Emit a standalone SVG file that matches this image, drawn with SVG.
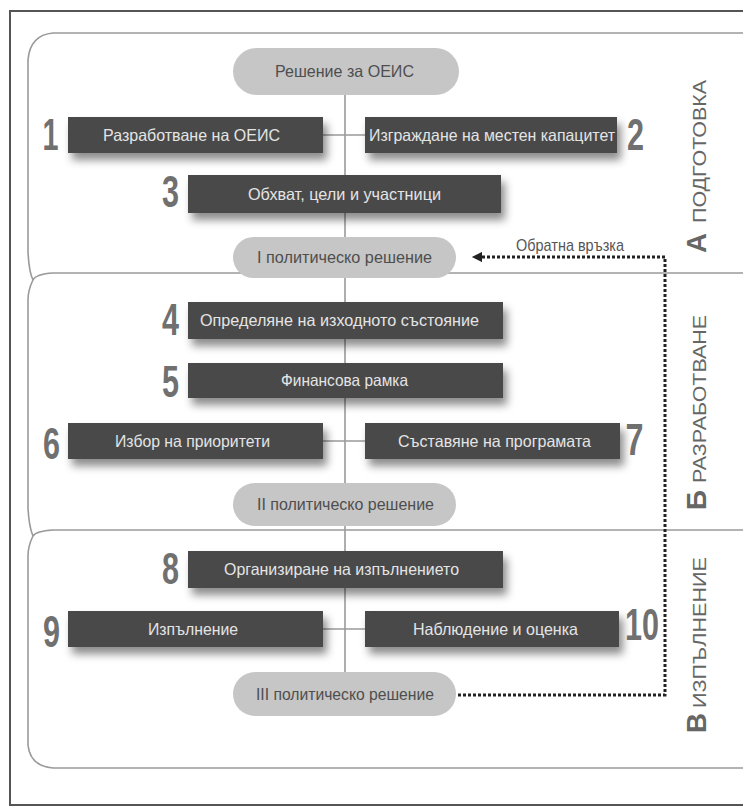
<svg xmlns="http://www.w3.org/2000/svg" width="743" height="807" viewBox="0 0 743 807">
<defs>
<filter id="sh" x="-10%" y="-40%" width="130%" height="200%">
<feDropShadow dx="4" dy="7" stdDeviation="4" flood-color="#000" flood-opacity="0.45"/>
</filter>
<marker id="arr" viewBox="0 0 10 10" refX="1" refY="5" markerWidth="4" markerHeight="3.4" orient="auto-start-reverse" markerUnits="strokeWidth">
<path d="M0,0 L10,5 L0,10 z" fill="#222"/>
</marker>
<style>
.sec{fill:none;stroke:#9a9a9a;stroke-width:1.6}
.frame{fill:none;stroke:#555;stroke-width:2}
.box{fill:#4a4a4a;filter:url(#sh)}
.bt{font-family:"Liberation Sans Narrow","Liberation Sans",Arial,sans-serif;font-size:16.5px;fill:#e4e4e4;text-anchor:middle}
.oval{fill:#c6c6c6}
.ot{font-family:"Liberation Sans Narrow","Liberation Sans",Arial,sans-serif;font-size:16.5px;fill:#4e4e4e;text-anchor:middle}
.num{font-family:"Liberation Sans Narrow","Liberation Sans",Arial,sans-serif;font-size:44px;font-weight:bold;fill:#707070;text-anchor:middle}
.ln{stroke:#9a9a9a;stroke-width:1.6;fill:none}
.fb{stroke:#222;stroke-width:3;fill:none;stroke-dasharray:3 2}
.big{font-family:"Liberation Sans",Arial,sans-serif;font-size:28px;font-weight:bold;fill:#666}
.lab{font-family:"Liberation Sans",Arial,sans-serif;font-size:18px;fill:#666}
.fbt{font-family:"Liberation Sans Narrow","Liberation Sans",Arial,sans-serif;font-size:17px;fill:#555}
</style>
</defs>
<rect width="743" height="807" fill="#fff"/>
<path class="frame" d="M745,11 H10 V805 H745"/>
<g id="sections">
<path class="sec" d="M745,33 H53 Q30,35 28,60 V252 Q29,272 33,280"/>
<path class="sec" d="M745,273 H53 Q36,274 33,280 Q28,290 28,300 V508 Q29,527 33,536"/>
<path class="sec" d="M745,530 H53 Q36,531 33,536 Q28,546 28,556 V745 Q30,766 53,768 H745"/>
</g>
<g id="connectors">
<line class="ln" x1="345" y1="92" x2="345" y2="675"/>
<line class="ln" x1="320" y1="135" x2="368" y2="135"/>
<line class="ln" x1="320" y1="441" x2="368" y2="441"/>
<line class="ln" x1="320" y1="629" x2="368" y2="629"/>
<path class="fb" d="M458,695 H665 V257 H481" marker-end="url(#arr)"/>
<text class="fbt" x="570" y="251" text-anchor="middle" textLength="108" lengthAdjust="spacingAndGlyphs">Обратна връзка</text>
</g>
<g id="start">
<rect class="oval" x="233" y="48" width="226" height="47" rx="23.5"/>
<text class="ot" x="344.5" y="77" textLength="139" lengthAdjust="spacingAndGlyphs">Решение за ОЕИС</text>
</g>
<g id="n1">
<rect class="box" x="68" y="117" width="255" height="36"/>
<text class="bt" x="191.5" y="141" textLength="177" lengthAdjust="spacingAndGlyphs">Разработване на ОЕИС</text>
<text class="num" x="50.5" y="150" textLength="16" lengthAdjust="spacingAndGlyphs">1</text>
</g>
<g id="n2">
<rect class="box" x="365" y="117" width="252" height="36"/>
<text class="bt" x="492" y="141" textLength="246" lengthAdjust="spacingAndGlyphs">Изграждане на местен капацитет</text>
<text class="num" x="635.5" y="150" textLength="17" lengthAdjust="spacingAndGlyphs">2</text>
</g>
<g id="n3">
<rect class="box" x="188" y="175" width="313" height="38"/>
<text class="bt" x="344.5" y="200" textLength="193" lengthAdjust="spacingAndGlyphs">Обхват, цели и участници</text>
<text class="num" x="170.5" y="207" textLength="17" lengthAdjust="spacingAndGlyphs">3</text>
</g>
<g id="d1">
<rect class="oval" x="233" y="237" width="223" height="41" rx="20.5"/>
<text class="ot" x="344.5" y="263" textLength="175" lengthAdjust="spacingAndGlyphs">I политическо решение</text>
</g>
<g id="n4">
<rect class="box" x="188" y="302" width="315" height="37"/>
<text class="bt" x="339.5" y="326" textLength="279" lengthAdjust="spacingAndGlyphs">Определяне на изходното състояние</text>
<text class="num" x="170.5" y="335" textLength="17" lengthAdjust="spacingAndGlyphs">4</text>
</g>
<g id="n5">
<rect class="box" x="188" y="363" width="315" height="35"/>
<text class="bt" x="344.5" y="386" textLength="127" lengthAdjust="spacingAndGlyphs">Финансова рамка</text>
<text class="num" x="170.5" y="397" textLength="17" lengthAdjust="spacingAndGlyphs">5</text>
</g>
<g id="n6">
<rect class="box" x="68" y="423" width="255" height="36"/>
<text class="bt" x="192.5" y="447" textLength="155" lengthAdjust="spacingAndGlyphs">Избор на приоритети</text>
<text class="num" x="51.5" y="459" textLength="17" lengthAdjust="spacingAndGlyphs">6</text>
</g>
<g id="n7">
<rect class="box" x="365" y="423" width="255" height="36"/>
<text class="bt" x="494.5" y="447" textLength="193" lengthAdjust="spacingAndGlyphs">Съставяне на програмата</text>
<text class="num" x="634.5" y="455" textLength="18" lengthAdjust="spacingAndGlyphs">7</text>
</g>
<g id="d2">
<rect class="oval" x="233" y="483" width="223" height="43" rx="21.5"/>
<text class="ot" x="345.5" y="510" textLength="177" lengthAdjust="spacingAndGlyphs">II политическо решение</text>
</g>
<g id="n8">
<rect class="box" x="188" y="551" width="315" height="37"/>
<text class="bt" x="341.5" y="575" textLength="235" lengthAdjust="spacingAndGlyphs">Организиране на изпълнението</text>
<text class="num" x="170.5" y="584" textLength="17" lengthAdjust="spacingAndGlyphs">8</text>
</g>
<g id="n9">
<rect class="box" x="68" y="611" width="255" height="36"/>
<text class="bt" x="193" y="635" textLength="90" lengthAdjust="spacingAndGlyphs">Изпълнение</text>
<text class="num" x="51.5" y="647" textLength="17" lengthAdjust="spacingAndGlyphs">9</text>
</g>
<g id="n10">
<rect class="box" x="365" y="611" width="254" height="36"/>
<text class="bt" x="495.5" y="635" textLength="165" lengthAdjust="spacingAndGlyphs">Наблюдение и оценка</text>
<text class="num" x="642" y="640" textLength="34" lengthAdjust="spacingAndGlyphs">10</text>
</g>
<g id="d3">
<rect class="oval" x="233" y="672" width="223" height="44" rx="22"/>
<text class="ot" x="345" y="700" textLength="178" lengthAdjust="spacingAndGlyphs">III политическо решение</text>
</g>
<g id="labels">
<g transform="translate(706,253) rotate(-90)">
<text class="big" x="0" y="0" textLength="20" lengthAdjust="spacingAndGlyphs">А</text>
<text class="lab" x="30" y="0" textLength="143" lengthAdjust="spacingAndGlyphs">ПОДГОТОВКА</text>
</g>
<g transform="translate(706,510) rotate(-90)">
<text class="big" x="0" y="0" textLength="20" lengthAdjust="spacingAndGlyphs">Б</text>
<text class="lab" x="27" y="0" textLength="168" lengthAdjust="spacingAndGlyphs">РАЗРАБОТВАНЕ</text>
</g>
<g transform="translate(706,733) rotate(-90)">
<text class="big" x="0" y="0" textLength="20" lengthAdjust="spacingAndGlyphs">В</text>
<text class="lab" x="25" y="0" textLength="151" lengthAdjust="spacingAndGlyphs">ИЗПЪЛНЕНИЕ</text>
</g>
</g>
</svg>
